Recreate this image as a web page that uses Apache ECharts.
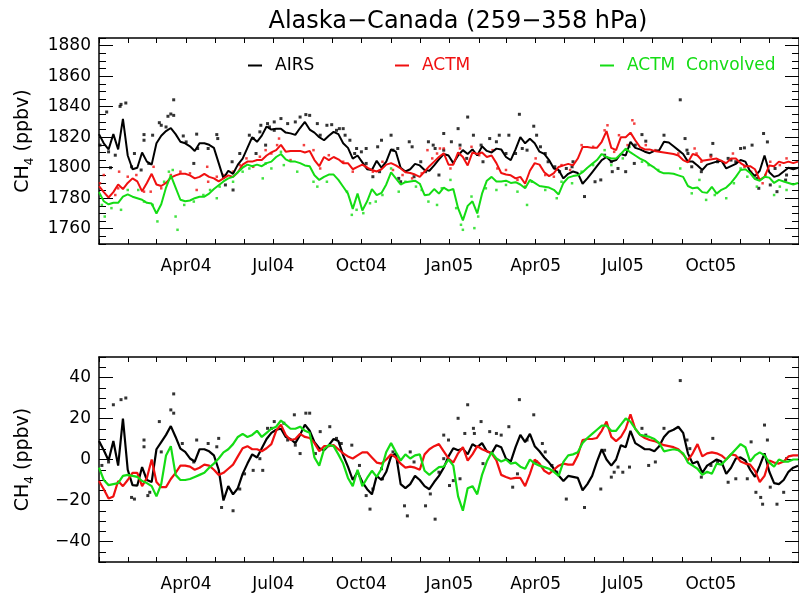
<!DOCTYPE html>
<html>
<head>
<meta charset="utf-8">
<script src="https://cdn.jsdelivr.net/npm/echarts@6/dist/echarts.min.js"></script>
<style>
  html, body { margin: 0; padding: 0; background: #ffffff; }
  #chart { width: 799px; height: 597px; }
</style>
</head>
<body>
<div id="chart"></div>
<script>
// ---- Time base: values are sampled every 5 days from 1 Jan 2004 ----
const seriesStart = Date.UTC(2004, 0, 1);
const stepDays = 5;

// ---- Upper panel: CH4 mixing ratio (ppbv), 5-day samples ----
const airsPpb = [
  1822, 1816, 1812, 1822, 1812, 1832, 1808, 1799, 1800, 1810, 1804, 1802, 1816, 1821, 1824, 1826, 1822, 1817, 1816, 1814, 1811, 1816, 1816, 1815, 1813, 1803, 1793, 1798, 1796, 1802, 1806, 1813, 1820, 1817, 1821, 1827, 1825,
  1825.5, 1825.5, 1823, 1822.5, 1821.5, 1826, 1830, 1825, 1823, 1820, 1818, 1821, 1823.5, 1822, 1816, 1813, 1806, 1808, 1803.5, 1799, 1798.5, 1804.5, 1800, 1804, 1812, 1810.5, 1800, 1797.5, 1799, 1802.5, 1801.5, 1798.5, 1798, 1801.5, 1805.5, 1809,
  1808, 1803, 1808, 1811.5, 1809, 1812, 1808, 1814, 1811, 1810, 1812.5, 1812, 1807, 1805, 1812, 1820, 1816, 1819, 1816, 1810.5, 1809, 1805, 1799.5, 1798.5, 1793, 1796, 1797.5, 1796.5, 1789.5, 1793, 1797, 1801, 1805, 1807, 1804, 1805,
  1809, 1808, 1817, 1813, 1812, 1810.5, 1809.5, 1811, 1811.5, 1817, 1816.5, 1814, 1811.5, 1809, 1804, 1804, 1801.5, 1798.5, 1802, 1803, 1804, 1804.5, 1799.5, 1801, 1802.5, 1805, 1804, 1797.5, 1794.5, 1798, 1808, 1797, 1794, 1795, 1797.5, 1800, 1799, 1800
];
const actmPpb = [
  1788, 1784, 1780.5, 1784, 1789, 1786, 1790, 1793, 1791, 1784.5, 1790, 1796, 1789, 1788, 1790, 1793.5, 1795, 1796, 1796, 1795, 1793, 1794, 1796, 1794, 1793, 1791, 1793, 1795, 1794, 1797, 1802, 1804, 1804, 1805, 1805, 1808, 1810,
  1811.5, 1815, 1810.5, 1811, 1811, 1811, 1810, 1811, 1805, 1801, 1807, 1805, 1807, 1805.5, 1803, 1803, 1799, 1800.5, 1802, 1800, 1798.5, 1797.5, 1799, 1802, 1803, 1801.5, 1799.5, 1797, 1796.5, 1795.5, 1794, 1797.5, 1801, 1804, 1807, 1809.5,
  1802, 1802, 1810, 1807, 1801.5, 1810, 1809, 1810, 1807, 1808, 1803, 1796.5, 1795.5, 1795, 1793, 1794, 1789.5, 1798, 1803, 1802, 1797, 1794.5, 1796.5, 1800.5, 1801.5, 1802.5, 1801.5, 1806, 1813.5, 1813.5, 1813, 1813, 1817, 1824, 1813, 1811.5,
  1820, 1820, 1823, 1818, 1813.5, 1812, 1812, 1811, 1810.5, 1810, 1809.5, 1809, 1808, 1805, 1803.5, 1809, 1808, 1804.5, 1805, 1805.5, 1806, 1804.5, 1803, 1806, 1806, 1803, 1801, 1801, 1799, 1792, 1794, 1801.5, 1801, 1804, 1803, 1804, 1803, 1804
];
const convPpb = [
  1784, 1778, 1776, 1777, 1777, 1781, 1782.5, 1781, 1780, 1779, 1777, 1776.5, 1770, 1776, 1787, 1795, 1787, 1779, 1778, 1778.5, 1780, 1781, 1781, 1783, 1786, 1788.5, 1791, 1793, 1794, 1797, 1800, 1802, 1801, 1802, 1801, 1803, 1804,
  1807, 1809, 1805.5, 1804, 1804, 1803, 1801.5, 1801, 1795, 1792, 1794, 1795.5, 1795.5, 1792, 1787.5, 1783, 1773, 1783, 1772, 1778, 1786, 1782, 1783.5, 1789, 1797, 1793, 1789, 1790.5, 1791, 1791.5, 1789.5, 1782, 1782.5, 1786, 1783, 1787,
  1785, 1786, 1773.5, 1765.5, 1775, 1778, 1770, 1783, 1791.5, 1794, 1791, 1791, 1791.5, 1790, 1790.5, 1789, 1786.5, 1792, 1790, 1788, 1787.5, 1787, 1785.5, 1782.5, 1790, 1793.5, 1794.5, 1795, 1797, 1800, 1802.5, 1805, 1809, 1807, 1806, 1806,
  1809, 1812.5, 1810, 1808, 1806, 1804.5, 1802, 1800, 1797.5, 1796.3, 1796.3, 1796, 1795, 1794, 1788, 1786.5, 1787, 1784, 1783.5, 1787.5, 1783, 1785.5, 1787, 1790, 1794, 1798.5, 1799, 1796.5, 1792.5, 1791.5, 1794, 1793.5, 1790, 1792, 1791, 1790, 1789, 1790
];

// ---- Upper panel: individual daily retrievals / model values [day, ppbv] ----
const airsDaily = [
  [1,1814.8],[8,1836.5],[10,1810.4],[12,1800],[17,1808.2],[22,1840.2],[23,1841.5],[28,1842.4],[34,1800.6],[37,1809.3],[44,1798.5],[47,1818],[47,1821.7],[52,1802.8],[56,1821.3],[63,1829.5],[65,1827.8],[70,1826.7],[72,1833.7],[75,1835.2],[78,1844.5],[78,1834.3],[88,1820.8],[91,1816.9],[99,1802.8],[102,1822],[103,1812.6],[114,1812.6],[123,1821.7],[124,1819.1],[132,1788.7],[139,1803.9],[140,1785.4],[147,1809.3],[157,1821.3],[161,1819.1],[164,1809.3],[168,1823.5],[169,1827.8],[174,1814.8],[176,1828.9],[178,1826.7],
  [183,1830],[183,1824.5],[190,1832.2],[197,1828.9],[205,1830],[210,1833.2],[216,1834.8],[220,1834.3],[228,1828.9],[231,1821.3],[238,1827.8],[243,1828.2],[248,1824.5],[251,1825.6],[255,1825.6],[257,1821.3],[262,1818],[267,1809.3],[269,1812.6],[274,1810.4],[279,1812.6],[279,1802.8],[286,1794.1],[291,1813.7],[293,1797.4],[295,1818],[305,1821.3],[307,1811.5],[312,1812.6],[313,1793],[315,1790.8],[324,1817],[327,1813.7],[329,1794.1],[336,1803.9],[341,1797.4],[344,1817],[349,1814.8],[351,1812.6],[355,1795.2],[360,1811.5],
  [360,1822.4],[368,1817],[375,1825.6],[377,1814.8],[384,1806.1],[385,1833.2],[391,1821.3],[399,1814.8],[401,1803.9],[408,1819.1],[415,1817],[418,1821.3],[425,1809.3],[428,1821.3],[435,1809.3],[439,1835],[442,1812.6],[447,1811.5],[454,1827.2],[457,1821.3],[461,1813.7],[466,1809.3],[469,1803.9],[476,1800.6],[481,1797.4],[488,1799.5],[494,1800.6],[495,1803.9],[507,1781.1],[518,1790.8],[524,1792],[528,1808.2],[535,1803.9],[536,1797.4],
  [542,1799.5],[550,1797.4],[559,1802.8],[560,1814.8],[567,1821.7],[571,1817.4],[590,1821.3],[607,1844.5],[612,1819.1],[614,1811.5],[615,1809.3],[619,1800.6],[629,1797.4],[639,1808.2],[641,1815.9],[646,1803.9],[657,1806.1],[660,1805],[665,1803.9],[670,1812.6],[674,1813],[682,1814.8],[687,1793],[689,1786.5],[694,1822.4],[698,1816.9],[701,1788.7],[706,1799.5],[708,1784.3],[717,1791.9],[718,1795.2]
];
const actmDaily = [
  [1,1789.8],[5,1795.2],[17,1782.1],[20,1786.5],[21,1797.4],[30,1794.1],[39,1795.2],[47,1784.3],[54,1784.3],[57,1800.6],[65,1786.5],[75,1795.2],[85,1797.4],[95,1796.3],[102,1785.4],[113,1800.6],[114,1790.8],[123,1794.1],[130,1795.2],[140,1797.4],[147,1801.7],[154,1806.1],[161,1800.6],[168,1807.2],[174,1811.5],[180,1809.3],
  [186,1814.8],[188,1819.1],[200,1805],[214,1814.8],[224,1811.5],[231,1799.5],[240,1808.2],[255,1803.9],[265,1797.4],[279,1800.6],[286,1797.4],[296,1803.9],[307,1798.5],[317,1795.2],[327,1793],[337,1796.3],[343,1811.5],[348,1806.1],[353,1809.3],[356,1812.6],
  [360,1812.6],[367,1799.5],[377,1812.6],[389,1813.7],[397,1808.2],[411,1811.5],[416,1799.5],[425,1798.5],[437,1792],[445,1787.6],[456,1806.1],[466,1795.2],[475,1794.1],[483,1801.7],[492,1798.5],[504,1814.8],[516,1813.7],[528,1824.5],[531,1827.8],[538,1810.4],
  [543,1821.3],[552,1814.8],[557,1831.1],[559,1828.9],[571,1814.8],[581,1811.5],[605,1809.3],[622,1812.6],[624,1809.3],[629,1803.9],[639,1807.2],[653,1802.8],[662,1809.3],[674,1800.6],[681,1797.4],[693,1789.8],[701,1803.9],[711,1801.7],[718,1806.1]
];
const convDaily = [
  [3,1775.6],[6,1768],[13,1773.5],[23,1772.4],[30,1785.4],[41,1785.4],[47,1777.8],[56,1775.6],[61,1764.8],[68,1790.8],[73,1797.4],[77,1798.5],[80,1768],[82,1759.3],[89,1775.6],[99,1777.8],[109,1782.1],[116,1785.4],[123,1780],[126,1787.6],[140,1790.8],[150,1797.4],[157,1799.5],[171,1793],[174,1802.8],
  [180,1799.5],[190,1810.4],[193,1801.7],[207,1797.4],[224,1790.8],[228,1787.6],[238,1790.8],[259,1784.3],[264,1769.1],[269,1772.4],[276,1770.2],[283,1776.7],[289,1777.8],[296,1782.1],[305,1799.5],[313,1784.3],[320,1790.8],[331,1787.6],[337,1785.4],[344,1777.8],[353,1775.6],[358,1786.5],
  [367,1792],[373,1773.5],[378,1762.6],[380,1759.3],[389,1781.1],[392,1760.4],[396,1768],[404,1786.5],[415,1785.4],[425,1788.7],[437,1784.3],[447,1775.6],[452,1790.8],[466,1785.4],[478,1780],[483,1790.8],[494,1789.8],[504,1797.4],[516,1801.7],[528,1811.5],[535,1801.7],
  [547,1806.1],[554,1813.7],[567,1803.9],[574,1801.7],[584,1798.5],[607,1799.5],[619,1783.2],[627,1792],[634,1778.9],[643,1782.1],[655,1780],[663,1789.8],[670,1799.5],[677,1794.1],[687,1787.6],[696,1795.2],[705,1782.1],[711,1787.6],[718,1785.4]
];

// ---- Lower panel: CH4 anomalies (ppbv), 5-day samples ----
const airsAnom = [
  9, 4.5, -0.5, 9, -3, 20, -5, -12.5, -12.7, -3.7, -10, -11, 5, 8.5, 12, 16.3, 11, 5.3, 3.7, 0.5, -1, 5, 5, 4, 2, -5, -20, -13, -17, -14, -7, -2, 2.5, 1, 5.5, 10, 13,
  14.5, 15, 11, 10, 8, 12, 17, 14, 8.5, 5.5, 4.5, 7, 10, 9, 2, -3.5, -10, -6, -11, -14.5, -17, -8, -10, -6, 1.5, 3, -12, -14, -12, -8, -10, -13, -14.5, -11, -8, -4,
  1.5, 5.5, 4.5, 5.3, 2.5, 7.5, 6, 8, 4, 3, 7, 6, 0.4, -1, 6, 12, 8.5, 12.5, 6.5, 4, 1, -1.5, -4.5, -7.8, -10.5, -8, -8.5, -9, -15, -12, -8, -1, 5, 0, -3, 0,
  7, 6, 14, 8, 6.5, 5, 5, 4, 6.5, 11, 13.5, 14.5, 16, 13, 3, -2, -1, -6.5, -3, -1.5, 0, -1, -7, -4, 0.5, 1, -0.5, -5, -8.5, -3, 3, -6, -11.5, -12, -10, -6, -4, -3
];
const actmAnom = [
  -10.5, -14.5, -19, -18, -10.5, -13, -10, -6.5, -6.5, -13, -9, 0, -11, -13.5, -13.5, -9.5, -6.5, -3, -3, -3.5, -5, -4, -2.5, -3, -5, -7.5, -6.5, -4.5, -2.5, 1.5, 5.5, 6.5, 5, 5, 4, 5.5, 7.5,
  14, 17, 12, 9.5, 10, 12.5, 11, 10.5, 8, 4, 6.5, 6.5, 7, 5, 3, 1.5, 0.5, 2, 3.5, 3.5, 1, -1.5, -2, 0, 2.5, 1, -2, -4, -3.5, -4, -5, 2.5, 5, 6.5, 7.5, 4,
  0.5, -1.5, 3, 6, -0.5, 2.5, 6.5, 5, 4, 3, -0.4, -7.5, -8.5, -9.4, -9, -9, -13, -7, 0, -2, -5.5, -7, -5, -3, -2, -2.5, -2.5, 2, 9.5, 10, 10, 10.5, 14, 18.5, 11, 9,
  11, 15, 22, 15, 12, 10.5, 9.5, 9, 8, 7, 6.5, 6, 5, 2.5, -0.4, 3, 7.5, 1.5, 3, 3.5, 3, 2, 0, 2.5, 2, -1, -2, -2.5, -5.5, -11, -8, -0.5, -1.5, -2, -1, 1.5, 2, 2
];
const convAnom = [
  -4, -10, -12.5, -12, -11.5, -8, -7.5, -8, -8.5, -10.5, -11.5, -13, -18, -12, 2, 6.5, -7.5, -10, -10, -9.5, -8.5, -7.5, -6.5, -4, -2, 0.5, 3.5, 5, 7.5, 11, 12.5, 11, 12, 14, 11, 13, 15,
  16, 19, 17, 15, 15, 16, 14, 13, 1, -3, 5, 7, 6.5, 2.5, -2, -9, -13, -5, -13, -9, -5.5, -8.5, -4.5, 3.7, 8, 3.7, -0.5, 2.5, 0.5, 2, 2.5, -5.5, -7.5, -5.5, -3.7, -3.5,
  0, -3, -18, -25, -14, -13, -17, -7.5, -1, 3.5, 0.5, -1, 0, -2, -1.5, -3.5, -4.5, 0, -2, -3, -3.7, -4.5, -6, -8, -1.2, 2, 2.5, 3.5, 8, 10.5, 12.5, 14.5, 16.5, 16.5, 14, 14,
  17, 20, 18.5, 15, 12, 11.5, 11, 10, 8, 4, 4.5, 5, 4.5, 3, -1.5, -3, -4.5, -7.5, -6, -7, -2, -2.5, 0, 2.5, 5, 7.5, 6, -1, 2, 3.5, 2, -1.5, -3.5, 0, -1, -1, 0, 0
];
const airsAnomDaily = [
  [3,-2.9],[10,-1.2],[15,26.7],[23,29.2],[28,30],[34,-18.5],[37,-19.3],[47,9.5],[47,6.2],[51,-17.6],[53,-16],[63,18.5],[65,3.7],[75,24.2],[78,32],[78,22.6],[87,7.8],[99,-1.2],[102,9.5],[114,7.8],[123,6.2],[125,10.3],[128,-23.4],[140,-25],[147,-14.4],[152,-7],[161,-5.3],[168,0.4],[171,-5.3],[176,15.2],
  [180,15.2],[183,18.5],[193,17.7],[197,9.5],[204,21.8],[205,7],[210,2.9],[216,22.6],[220,22.6],[226,2.9],[231,13.6],[241,16],[248,10.3],[253,7.8],[264,7],[272,-2.9],[279,-17.6],[283,-24.2],[286,-14.4],[295,-4.5],[296,-9.4],[307,3.7],[312,-1.2],[319,-22.6],[322,-27.5],[325,3.7],[329,-1.2],[341,-22.6],[346,-16.8],[351,-29.1],[355,-6.2],[360,0.4],
  [360,11.9],[365,9.5],[366,-12.7],[370,-10.3],[375,20.1],[377,-9.4],[382,12.7],[385,26.7],[391,15.2],[392,12.7],[399,18.5],[401,-2],[408,13.6],[415,12.7],[420,11.9],[428,16],[432,-13.5],[437,-7],[439,29.2],[447,9.5],[454,21.8],[457,-1.2],[463,7.8],[466,3.7],[473,-2.9],[478,-6.2],[488,-19.3],[507,-23.4],[524,-14.4],[528,4.5],[535,-8.6],[538,-6.2],
  [542,-3.7],[547,-6.2],[554,-3.7],[567,15.2],[571,11.9],[574,-2.9],[581,-1.2],[590,15.2],[607,38.5],[614,9.5],[617,5.3],[629,-8.6],[639,-2.9],[641,10.3],[646,-1.2],[657,-11.1],[665,-9.4],[677,-9.4],[681,8.6],[686,-16],[691,-18.5],[693,-21.8],[695,16.8],[698,9.5],[701,-13.5],[708,-21.8],[715,-16],[718,0.4]
];

// ---- Axis ticks and labels ----
const topMajorTicks = [1760, 1780, 1800, 1820, 1840, 1860, 1880];
const bottomMajorTicks = [-40, -20, 0, 20, 40];
const xTickLabels = ['Apr04', 'Jul04', 'Oct04', 'Jan05', 'Apr05', 'Jul05', 'Oct05'];
const xLabelMonthIndex = [3, 6, 9, 12, 15, 18, 21];

const FONT = 'DejaVu Sans';
const FONT_WEIGHT = 'normal';
const COLOR_AIRS = '#000000';
const COLOR_ACTM = '#f01010';
const COLOR_CONV = '#14dc14';

const DAY_MS = 86400000;
const monthStartDays = [];
for (let m = 0; m <= 24; m++) monthStartDays.push(Math.round((Date.UTC(2004, m, 1) - seriesStart) / DAY_MS));
const xLabelDays = xLabelMonthIndex.map(m => monthStartDays[m]);
const xMax = monthStartDays[24];

const dayGrid = airsPpb.map((_, i) => i * stepDays);
const toPairs = vals => vals.map((v, i) => [dayGrid[i], v]);

const axisLineStyle = { color: '#000', width: 1.5 };
const tickLineStyle = { color: '#000', width: 1 };
const labelText = { fontSize: 17, color: '#000', fontFamily: FONT, fontWeight: FONT_WEIGHT };

function makeXAxes(gridIndex) {
  return [
    {
      type: 'value', gridIndex, position: 'bottom', min: 0, max: xMax,
      axisLine: { show: true, onZero: false, lineStyle: axisLineStyle },
      axisTick: { show: true, inside: true, length: 5, customValues: monthStartDays, lineStyle: tickLineStyle },
      axisLabel: Object.assign({
        show: true, customValues: xLabelDays, margin: 14,
        formatter: v => { const k = xLabelDays.indexOf(v); return k >= 0 ? xTickLabels[k] : ''; }
      }, labelText),
      splitLine: { show: false }
    },
    {
      type: 'value', gridIndex, position: 'top', min: 0, max: xMax,
      axisLine: { show: true, onZero: false, lineStyle: axisLineStyle },
      axisTick: { show: true, inside: true, length: 5, customValues: monthStartDays, lineStyle: tickLineStyle },
      axisLabel: { show: false },
      splitLine: { show: false }
    }
  ];
}

const yName = '{m|CH}{s|4}{m| (ppbv)}';
const yNameStyle = {
  color: '#000', fontFamily: FONT, fontSize: 19, fontWeight: FONT_WEIGHT,
  rich: {
    m: { fontSize: 19, fontFamily: FONT, fontWeight: FONT_WEIGHT, color: '#000', lineHeight: 26, verticalAlign: 'middle' },
    s: { fontSize: 12, fontFamily: FONT, fontWeight: FONT_WEIGHT, color: '#000', verticalAlign: 'bottom' }
  }
};

function makeYAxes(gridIndex, min, max, majors, fmt) {
  const list = [];
  ['left', 'right'].forEach(side => {
    list.push({
      type: 'value', gridIndex, position: side, min, max, interval: 5,
      axisLine: { show: true, onZero: false, lineStyle: axisLineStyle },
      axisTick: { show: true, inside: true, length: 7, lineStyle: tickLineStyle },
      axisLabel: { show: false },
      splitLine: { show: false }
    });
    list.push({
      type: 'value', gridIndex, position: side, min, max,
      axisLine: { show: false, onZero: false },
      axisTick: { show: true, inside: true, length: 14, customValues: majors, lineStyle: tickLineStyle },
      axisLabel: Object.assign({
        show: side === 'left', customValues: majors, formatter: fmt, margin: 8
      }, labelText),
      splitLine: { show: false },
      name: side === 'left' ? yName : '',
      nameLocation: 'middle', nameRotate: 90, nameGap: 63,
      nameTextStyle: yNameStyle
    });
  });
  return list;
}

function lineSeries(name, color, vals, xi, yi, width) {
  return {
    type: 'line', name, data: toPairs(vals), xAxisIndex: xi, yAxisIndex: yi,
    showSymbol: false, symbol: 'none', silent: true,
    lineStyle: { color, width }, itemStyle: { color }
  };
}
function dotSeries(name, color, pts, xi, yi, size) {
  return {
    type: 'scatter', name, data: pts, xAxisIndex: xi, yAxisIndex: yi,
    symbol: 'rect', symbolSize: size, silent: true, itemStyle: { color }
  };
}

function legendItem(name, left, color) {
  return {
    data: [name], left, top: 57, padding: 0, orient: 'horizontal',
    icon: 'rect', itemWidth: 14, itemHeight: 2, selectedMode: false,
    textStyle: { color, fontSize: 17, fontFamily: FONT, fontWeight: FONT_WEIGHT, padding: [0, 0, 0, 8] }
  };
}

const chart = echarts.init(document.getElementById('chart'), null, { renderer: 'canvas' });
chart.setOption({
  backgroundColor: '#ffffff',
  animation: false,
  title: {
    text: 'Alaska\u2212Canada (259\u2212358 hPa)',
    left: 453, top: 5, textAlign: 'center',
    textStyle: { fontSize: 24, fontWeight: FONT_WEIGHT, color: '#000', fontFamily: FONT }
  },
  legend: [
    legendItem('AIRS', 248, COLOR_AIRS),
    legendItem('ACTM', 395, COLOR_ACTM),
    legendItem('ACTM  Convolved', 600, COLOR_CONV)
  ],
  grid: [
    { left: 99, top: 38, width: 710, height: 206 },
    { left: 99, top: 357, width: 710, height: 205 }
  ],
  xAxis: [].concat(makeXAxes(0), makeXAxes(1)),
  yAxis: [].concat(
    makeYAxes(0, 1750, 1885, topMajorTicks, v => String(v)),
    makeYAxes(1, -50, 50, bottomMajorTicks, v => String(v).replace('-', '\u2212'))
  ),
  series: [
    dotSeries('AIRS daily', COLOR_AIRS, airsDaily, 0, 0, 3),
    lineSeries('AIRS', COLOR_AIRS, airsPpb, 0, 0, 2),
    dotSeries('ACTM daily', COLOR_ACTM, actmDaily, 0, 0, 2.5),
    lineSeries('ACTM', COLOR_ACTM, actmPpb, 0, 0, 2),
    dotSeries('ACTM Convolved daily', COLOR_CONV, convDaily, 0, 0, 2.5),
    lineSeries('ACTM  Convolved', COLOR_CONV, convPpb, 0, 0, 2),

    dotSeries('AIRS anomaly daily', COLOR_AIRS, airsAnomDaily, 2, 4, 3),
    lineSeries('AIRS anomaly', COLOR_AIRS, airsAnom, 2, 4, 2.2),
    lineSeries('ACTM anomaly', COLOR_ACTM, actmAnom, 2, 4, 2.2),
    lineSeries('ACTM Convolved anomaly', COLOR_CONV, convAnom, 2, 4, 2.2)
  ]
});
</script>
</body>
</html>
